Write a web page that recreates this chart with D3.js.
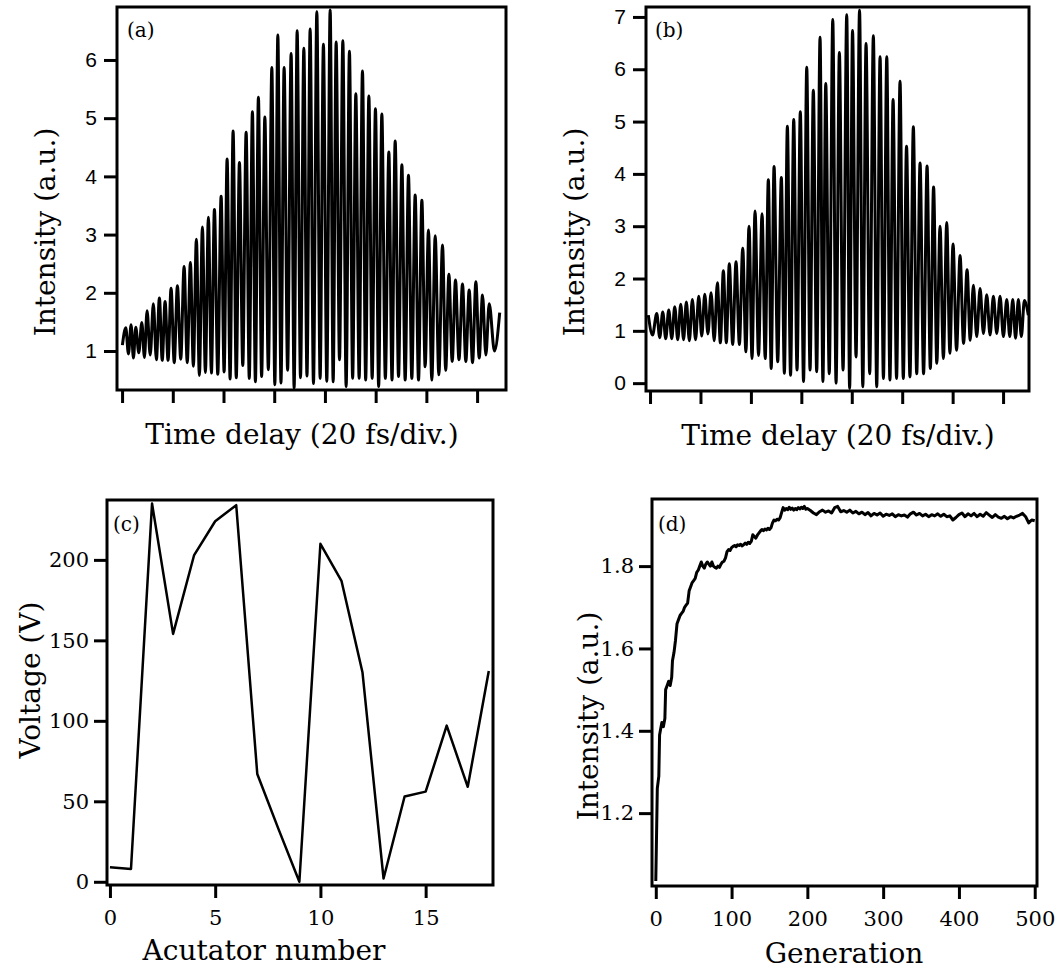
<!DOCTYPE html>
<html><head><meta charset="utf-8">
<script src="https://cdn.jsdelivr.net/npm/d3@7"></script>
<style>body{margin:0;background:#fff}</style>
</head><body><svg id="chart" width="1057" height="973"></svg>
<script>
// ---------- Panel (a): interferogram, fringe extremes (delay in divisions of 20 fs) ----------
const aPeakDelay = [0.073,0.178,0.270,0.389,0.493,0.617,0.736,0.848,0.966,1.091,1.223,1.347,1.465,1.584,1.702,1.821,1.953,2.071,2.189,2.314,2.446,2.570,2.688,2.815,2.953,3.071,3.195,3.333,3.452,3.584,3.708,3.840,3.970,4.103,4.221,4.353,4.483,4.609,4.740,4.866,4.996,5.122,5.260,5.385,5.517,5.647,5.779,5.911,6.041,6.174,6.318,6.444,6.574,6.712,6.844,6.976,7.107,7.239];
const aPeakValue = [1.40,1.45,1.41,1.49,1.69,1.81,1.91,1.85,2.08,2.12,2.45,2.52,2.92,3.13,3.30,3.43,3.66,4.30,4.78,4.24,4.76,5.11,5.36,5.02,5.87,6.43,5.87,6.11,6.50,6.20,6.53,6.83,6.27,6.86,6.31,6.33,6.15,5.42,5.81,5.38,5.16,5.07,4.42,4.61,4.20,4.02,3.68,3.59,3.08,2.98,2.82,2.32,2.22,2.15,2.05,2.19,1.96,1.81];
const aTroughValue = [0.95,0.88,0.97,0.89,0.93,0.85,0.84,0.84,0.80,0.86,0.80,0.74,0.58,0.63,0.62,0.60,0.64,0.52,0.54,0.75,0.53,0.47,0.56,0.68,0.42,0.45,0.67,0.36,0.54,0.57,0.44,0.53,0.48,0.47,0.85,0.39,0.53,0.53,0.50,0.53,0.39,0.53,0.50,0.56,0.50,0.53,0.50,0.73,0.50,0.59,0.67,0.82,0.85,0.82,0.80,0.88,0.93,1.00];
const aEdgeDelay = [0.006, 7.446];
const aEdgeValue = [1.10, 1.66];
const aYTicks = [1,2,3,4,5,6];
const abXTicks = [0,1,2,3,4,5,6,7];

// ---------- Panel (b) ----------
const bPeakDelay = [0.133,0.252,0.371,0.490,0.609,0.720,0.839,0.966,1.085,1.210,1.335,1.454,1.572,1.705,1.838,1.963,2.082,2.221,2.346,2.459,2.604,2.723,2.849,2.980,3.107,3.238,3.371,3.484,3.623,3.754,3.900,4.015,4.154,4.283,4.428,4.561,4.694,4.819,4.957,5.086,5.221,5.354,5.493,5.622,5.750,5.883,6.008,6.147,6.286,6.411,6.544,6.676,6.808,6.940,7.073,7.192,7.303,7.422];
const bPeakValue = [1.33,1.36,1.40,1.46,1.51,1.55,1.60,1.66,1.70,1.73,1.92,2.15,2.28,2.32,2.58,3.00,3.29,3.24,3.89,4.14,3.93,4.91,5.04,5.19,6.04,5.60,6.61,5.73,6.95,6.32,7.04,6.74,7.13,6.49,6.64,6.24,6.24,5.42,5.77,4.53,4.90,4.21,4.15,3.75,3.00,3.07,2.66,2.44,2.17,1.87,1.81,1.69,1.66,1.66,1.60,1.60,1.60,1.58];
const bTroughValue = [0.92,0.87,0.85,0.85,0.83,0.83,0.81,0.83,0.90,0.94,0.81,0.77,0.77,0.74,0.74,0.60,0.47,0.53,0.47,0.28,0.41,0.19,0.15,0.25,0.03,0.25,0.22,0.03,0.18,0.00,0.25,-0.10,0.50,-0.07,0.18,-0.07,0.09,0.06,0.09,0.09,0.12,0.18,0.18,0.28,0.38,0.47,0.57,0.63,0.76,0.82,0.89,0.95,0.92,0.95,0.89,0.89,0.86,0.89];
const bEdgeDelay = [-0.034, 7.501];
const bEdgeValue = [1.30, 1.30];
const bYTicks = [0,1,2,3,4,5,6,7];

// ---------- Panel (c): actuator voltages ----------
const cActuator = [0,1,2,3,4,5,6,7,8,9,10,11,12,13,14,15,16,17,18];
const cVoltage = [9,8,235,154,203,224,234,67,33,0,210,187,130,2,53,56,97,59,131];
const cXTicks = [0,5,10,15];
const cYTicks = [0,50,100,150,200];

// ---------- Panel (d): GA convergence ----------
const dGeneration = [0,2,4,5,6,8,10,12,13,15,17,19,21,22,24,26,28,30,32,34,36,38,40,42,44,46,48,50,52,54,56,58,60,62,64,66,68,70,72,74,76,78,80,82,84,86,88,90,92,94,96,98,100,102,104,106,108,110,112,114,116,118,120,122,124,126,128,130,132,134,136,138,140,142,144,146,148,150,152,154,156,158,160,162,164,166,168,170,172,174,176,178,180,182,184,186,188,190,192,194,196,198,200,204,208,212,216,220,224,228,232,236,240,244,248,252,256,260,264,268,272,276,280,284,288,292,296,300,304,308,312,316,320,324,328,332,336,340,344,348,352,356,360,364,368,372,376,380,384,388,392,396,400,404,408,412,416,420,424,428,432,436,440,444,448,452,456,460,464,468,472,476,480,484,488,492,496,500];
const dIntensity = [1.035,1.26,1.29,1.39,1.40,1.42,1.41,1.43,1.50,1.51,1.52,1.51,1.53,1.57,1.59,1.62,1.66,1.67,1.68,1.685,1.69,1.70,1.705,1.71,1.74,1.75,1.76,1.765,1.77,1.785,1.79,1.80,1.81,1.80,1.795,1.805,1.81,1.805,1.80,1.81,1.80,1.797,1.795,1.80,1.797,1.805,1.81,1.812,1.82,1.835,1.84,1.838,1.845,1.848,1.85,1.847,1.852,1.85,1.853,1.849,1.852,1.856,1.853,1.858,1.855,1.86,1.876,1.872,1.868,1.875,1.88,1.885,1.889,1.886,1.89,1.888,1.892,1.889,1.893,1.905,1.912,1.91,1.914,1.912,1.917,1.93,1.942,1.936,1.94,1.937,1.943,1.938,1.941,1.936,1.94,1.937,1.942,1.939,1.943,1.94,1.945,1.938,1.94,1.935,1.929,1.925,1.932,1.936,1.931,1.934,1.929,1.942,1.945,1.932,1.935,1.931,1.936,1.929,1.933,1.927,1.931,1.925,1.93,1.922,1.928,1.924,1.929,1.921,1.926,1.923,1.927,1.92,1.925,1.922,1.924,1.919,1.927,1.931,1.924,1.928,1.922,1.926,1.92,1.925,1.922,1.927,1.921,1.926,1.92,1.922,1.912,1.918,1.925,1.929,1.92,1.927,1.922,1.928,1.92,1.926,1.921,1.93,1.924,1.918,1.925,1.919,1.916,1.921,1.915,1.92,1.917,1.921,1.924,1.928,1.92,1.905,1.912,1.91];
const dXTicks = [0,100,200,300,400,500];
const dYTicks = [1.2,1.4,1.6,1.8];

// ---------- build fringe tables ----------
function fringeTable(peakDelay, peakValue, troughValue, edgeDelay, edgeValue, troughFirst) {
  const pts = [[edgeDelay[0], edgeValue[0]]];
  let ti = 0;
  const n = peakDelay.length;
  if (troughFirst) {
    pts.push([(edgeDelay[0] + peakDelay[0]) / 2, troughValue[ti++]]);
  }
  for (let i = 0; i < n; i++) {
    pts.push([peakDelay[i], peakValue[i]]);
    const next = i < n - 1 ? peakDelay[i + 1] : edgeDelay[1];
    if (ti < troughValue.length) pts.push([(peakDelay[i] + next) / 2, troughValue[ti++]]);
  }
  pts.push([edgeDelay[1], edgeValue[1]]);
  return pts;
}
const aPoints = fringeTable(aPeakDelay, aPeakValue, aTroughValue, aEdgeDelay, aEdgeValue, false);
const bPoints = fringeTable(bPeakDelay, bPeakValue, bTroughValue, bEdgeDelay, bEdgeValue, true);
const cPoints = cActuator.map((a, i) => [a, cVoltage[i]]);
const dPoints = dGeneration.map((g, i) => [g, dIntensity[i]]);

const svg = d3.select("#chart");
const SERIF = "'DejaVu Serif', 'Liberation Serif', serif";
const SANS = "'Liberation Sans Narrow', 'Liberation Sans', Arial, sans-serif";

let clipId = 0;
function panel(o) {
  const x = d3.scaleLinear().domain(o.xDomain).range([o.l, o.r]);
  const y = d3.scaleLinear().domain(o.yDomain).range([o.b, o.t]);
  const g = svg.append("g");
  const id = "clip" + (clipId++);
  g.append("clipPath").attr("id", id).append("rect")
    .attr("x", o.l).attr("y", o.t).attr("width", o.r - o.l).attr("height", o.b - o.t);

  g.append("path").datum(o.points)
    .attr("clip-path", `url(#${id})`)
    .attr("fill", "none").attr("stroke", "#000")
    .attr("stroke-width", o.lineWidth).attr("stroke-linejoin", "round")
    .attr("d", d3.line().x(d => x(d[0])).y(d => y(d[1])).curve(o.curve));

  // frame
  g.append("rect").attr("x", o.l).attr("y", o.t).attr("width", o.r - o.l).attr("height", o.b - o.t)
    .attr("fill", "none").attr("stroke", "#000").attr("stroke-width", 3);

  const xa = d3.axisBottom(x).tickValues(o.xTicks).tickSize(12).tickSizeOuter(0).tickPadding(12);
  if (!o.xLabels) xa.tickFormat("");
  const gx = g.append("g").attr("transform", `translate(0,${o.b + 1})`).call(xa);
  const ya = d3.axisLeft(y).tickValues(o.yTicks).tickSize(12).tickSizeOuter(0).tickPadding(o.yPad).tickFormat(o.yFormat);
  const gy = g.append("g").attr("transform", `translate(${o.l - 1},0)`).call(ya);
  [gx, gy].forEach(a => {
    a.select(".domain").remove();
    a.selectAll(".tick line").attr("stroke", "#000").attr("stroke-width", 3);
  });
  gx.selectAll(".tick text").attr("font-family", o.tickFont).attr("font-size", o.tickSize).attr("fill", "#000");
  gy.selectAll(".tick text").attr("font-family", o.tickFont).attr("font-size", o.tickSize).attr("fill", "#000");

  g.append("text").attr("x", o.xTitlePos[0]).attr("y", o.xTitlePos[1]).attr("text-anchor", "middle")
    .attr("font-family", SERIF).attr("font-size", 28).text(o.xTitle);
  g.append("text").attr("transform", `translate(${o.yTitlePos[0]},${o.yTitlePos[1]}) rotate(-90)`)
    .attr("text-anchor", "middle").attr("font-family", SERIF).attr("font-size", 28).text(o.yTitle);
  g.append("text").attr("x", o.tagPos[0]).attr("y", o.tagPos[1])
    .attr("font-family", SERIF).attr("font-size", 20).text(o.tag);
}

panel({ l:117, r:506, t:7, b:390, xDomain:[-0.1,7.57], yDomain:[0.33,6.91],
  points:aPoints, curve:d3.curveMonotoneX, lineWidth:3,
  xTicks:abXTicks, yTicks:aYTicks, xLabels:false, yFormat:d3.format("d"), yPad:7,
  tickFont:SANS, tickSize:21,
  xTitle:"Time delay (20 fs/div.)", xTitlePos:[302,444],
  yTitle:"Intensity (a.u.)", yTitlePos:[55,232], tag:"(a)", tagPos:[127,37] });

panel({ l:646, r:1029, t:7, b:391, xDomain:[-0.08,7.514], yDomain:[-0.15,7.19],
  points:bPoints, curve:d3.curveMonotoneX, lineWidth:3,
  xTicks:abXTicks, yTicks:bYTicks, xLabels:false, yFormat:d3.format("d"), yPad:7,
  tickFont:SANS, tickSize:21,
  xTitle:"Time delay (20 fs/div.)", xTitlePos:[838,445],
  yTitle:"Intensity (a.u.)", yTitlePos:[584,232], tag:"(b)", tagPos:[655,37] });

panel({ l:107, r:493, t:500, b:885, xDomain:[-0.14,18.2], yDomain:[-2,237.2],
  points:cPoints, curve:d3.curveLinear, lineWidth:2.5,
  xTicks:cXTicks, yTicks:cYTicks, xLabels:true, yFormat:d3.format("d"), yPad:5,
  tickFont:SERIF, tickSize:21,
  xTitle:"Acutator number", xTitlePos:[264,960],
  yTitle:"Voltage (V)", yTitlePos:[40,680], tag:"(c)", tagPos:[113,531] });

panel({ l:652, r:1037, t:499, b:886, xDomain:[-5,503], yDomain:[1.023,1.963],
  points:dPoints, curve:d3.curveLinear, lineWidth:3,
  xTicks:dXTicks, yTicks:dYTicks, xLabels:true, yFormat:d3.format(".1f"), yPad:5,
  tickFont:SERIF, tickSize:21,
  xTitle:"Generation", xTitlePos:[844,963],
  yTitle:"Intensity (a.u.)", yTitlePos:[598,716], tag:"(d)", tagPos:[658,531] });
</script>
</body></html>
